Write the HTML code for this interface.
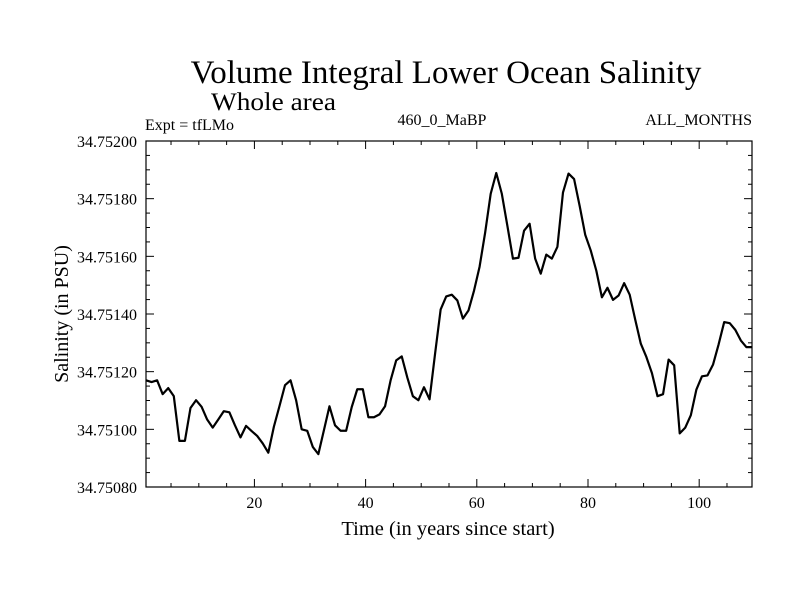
<!DOCTYPE html>
<html><head><meta charset="utf-8"><style>
html,body{margin:0;padding:0;background:#fff;}
svg{display:block;font-family:"Liberation Serif",serif;}
</style></head><body>
<svg id="chart" width="800" height="600" viewBox="0 0 800 600">
<text x="446" y="83" font-size="33" text-anchor="middle">Volume Integral Lower Ocean Salinity</text>
<text x="0" y="0" font-size="22" textLength="125" lengthAdjust="spacingAndGlyphs" transform="translate(211,110) scale(1,1.15)">Whole area</text>
<text x="145" y="130" font-size="16">Expt = tfLMo</text>
<text x="442" y="125" font-size="16" text-anchor="middle">460_0_MaBP</text>
<text x="752" y="125" font-size="16" text-anchor="end">ALL_MONTHS</text>
<text x="448" y="535" font-size="20.5" text-anchor="middle">Time (in years since start)</text>
<text x="0" y="0" font-size="20" text-anchor="middle" transform="translate(68,314) rotate(-90)">Salinity (in PSU)</text>
<g id="axes"></g>
<g id="plot"></g>
</svg>
<script>
const years = [];
for (let i = 0; i < 110; i++) years.push(0.5 + i);
const salinity = [
34.75117,34.751164,34.75117,34.751122,34.751143,34.751115,34.75096,34.75096,34.751074,34.751101,
34.751078,34.751034,34.751006,34.751034,34.751063,34.751059,34.751014,34.750972,34.751012,34.750994,
34.750977,34.750951,34.750919,34.751009,34.75108,34.751153,34.75117,34.751101,34.751,34.750995,
34.750939,34.750914,34.750997,34.75108,34.751014,34.750995,34.750995,34.751077,34.751139,34.751139,
34.751042,34.751042,34.751052,34.75108,34.75117,34.751239,34.751253,34.75118,34.751115,34.751101,
34.751146,34.751104,34.751263,34.751416,34.751461,34.751467,34.751447,34.751384,34.751412,34.751481,
34.751564,34.751682,34.751817,34.751889,34.751817,34.751706,34.751592,34.751595,34.751689,34.751713,
34.751592,34.75154,34.751606,34.751592,34.751633,34.751821,34.751887,34.751868,34.751775,34.751675,
34.75162,34.75155,34.751458,34.751491,34.751449,34.751464,34.751507,34.751467,34.75138,34.751297,
34.751251,34.751195,34.751115,34.751122,34.751242,34.751222,34.750986,34.751006,34.751049,34.751138,
34.751184,34.751187,34.751225,34.751295,34.751372,34.751368,34.751345,34.751308,34.751285,34.751285
];
const yTickValues = [34.7508,34.751,34.7512,34.7514,34.7516,34.7518,34.752];
const yTickLabels = ["34.75080","34.75100","34.75120","34.75140","34.75160","34.75180","34.75200"];
const xTickValues = [20,40,60,80,100];
const xTickLabels = ["20","40","60","80","100"];

const L=146,R=752,T=141,B=487;
const xMin=0.5,xMax=109.5,yMin=34.7508,yMax=34.752;
function xs(v){return L+(v-xMin)/(xMax-xMin)*(R-L);}
function ys(v){return B-(v-yMin)/(yMax-yMin)*(B-T);}
const NS="http://www.w3.org/2000/svg";
const axes=document.getElementById('axes'), plot=document.getElementById('plot');
function mk(tag,attrs,parent){const e=document.createElementNS(NS,tag);for(const k in attrs)e.setAttribute(k,attrs[k]);parent.appendChild(e);return e;}

const frame=mk('rect',{x:L,y:T,width:R-L,height:B-T,fill:'none',stroke:'#000','stroke-width':1.2},axes);



for(let v=yMin; v<=yMax+1e-9; v+=0.00005){
  const y=ys(v); const major=Math.abs(Math.round(v*5000)-v*5000)<1e-4; const len=major?8:4;
  const t1=mk('line',{x1:L,x2:L+len,y1:y,y2:y,stroke:'#000','stroke-width':1},axes);
  
  
  const t2=mk('line',{x1:R,x2:R-len,y1:y,y2:y,stroke:'#000','stroke-width':1},axes);
  
  
}
yTickValues.forEach((v,i)=>{
  const t=mk('text',{x:137,y:ys(v)+6,'font-size':16,'text-anchor':'end'},axes);
  t.textContent=yTickLabels[i];
  
  
});
for(let v=5; v<=xMax; v+=5){
  const x=xs(v); const major=v%20===0; const len=major?8:4;
  const t1=mk('line',{x1:x,x2:x,y1:B,y2:B-len,stroke:'#000','stroke-width':1},axes);
  
  
  const t2=mk('line',{x1:x,x2:x,y1:T,y2:T+len,stroke:'#000','stroke-width':1},axes);
  
  
}
xTickValues.forEach((v,i)=>{
  const t=mk('text',{x:xs(v),y:508,'font-size':16,'text-anchor':'middle'},axes);
  t.textContent=xTickLabels[i];
  
  
});
const pts=salinity.map((v,i)=>xs(years[i]).toFixed(2)+','+ys(v).toFixed(2)).join(' ');
const line=mk('polyline',{points:pts,fill:'none',stroke:'#000','stroke-width':2.2,'stroke-linejoin':'round'},plot);


</script>
</body></html>
